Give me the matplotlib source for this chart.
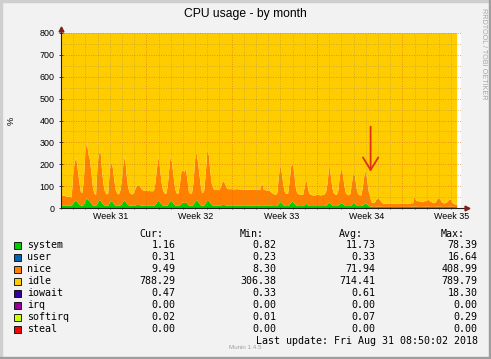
import numpy as np
import matplotlib.pyplot as plt
from matplotlib.patches import Rectangle

W, H = 491, 359

# munin cpu graph, one sample every 3 hours (8 per day)
sample_hours = 3
system = [
    10, 10, 10, 10, 10, 10, 10, 12,
    20, 30, 34, 25, 16, 12, 10, 14,
    30, 44, 36, 30, 18, 12, 10, 10,
    22, 32, 34, 22, 14, 11, 10, 10,
    24, 30, 26, 16, 11, 10, 10, 12,
    18, 30, 34, 22, 14, 11, 10, 10,
    10, 12, 14, 14, 12, 11, 10, 10,
    10, 10, 10, 10, 10, 10, 14, 24,
    34, 26, 16, 11, 10, 10, 12, 22,
    34, 28, 18, 12, 10, 10, 12, 18,
    26, 22, 28, 18, 11, 10, 10, 14,
    30, 36, 28, 18, 11, 10, 11, 20,
    36, 32, 22, 14, 11, 10, 10, 10,
    10, 11, 14, 15, 12, 10, 10, 10,
    10, 10, 10, 10, 10, 10, 10, 10,
    10, 10, 10, 10, 10, 10, 10, 10,
    10, 10, 10, 10, 14, 10, 10, 10,
    10, 10, 10, 9, 9, 9, 10, 18,
    28, 20, 13, 10, 9, 9, 14, 24,
    29, 22, 13, 10, 9, 9, 9, 9,
    14, 20, 13, 10, 9, 9, 9, 9,
    9, 9, 9, 9, 9, 9, 10, 16,
    26, 20, 12, 9, 9, 9, 11, 17,
    21, 18, 12, 9, 9, 9, 9, 14,
    24, 19, 11, 9, 9, 9, 11, 16,
    21, 15, 9, 7, 6, 5, 5, 6,
    6, 6, 5, 5, 5, 5, 5, 5,
    5, 5, 4, 5, 5, 4, 5, 5,
    5, 5, 5, 5, 5, 5, 6, 5,
    7, 6, 5, 5, 5, 5, 5, 6,
    5, 6, 5, 5, 5, 5, 5, 6,
    6, 6, 5, 5, 5, 5, 5, 6,
    6, 5, 5, 5, 5,
]
nice = [
    45, 47, 46, 44, 42, 42, 40, 36,
    130, 180, 195, 150, 104, 62, 58, 110,
    225, 258, 210, 190, 140, 80, 55, 50,
    175, 215, 222, 145, 88, 60, 52, 55,
    148, 178, 158, 110, 70, 55, 52, 68,
    110, 175, 203, 135, 82, 60, 54, 52,
    60, 78, 88, 90, 86, 74, 70, 68,
    68, 67, 68, 67, 66, 68, 100, 158,
    198, 155, 100, 68, 57, 54, 84, 152,
    208, 170, 118, 72, 57, 54, 92, 145,
    148, 140, 152, 108, 62, 54, 58, 102,
    190, 218, 176, 128, 72, 57, 68, 136,
    228, 210, 145, 95, 76, 72, 72, 73,
    74, 84, 104, 105, 93, 78, 76, 76,
    76, 75, 75, 76, 76, 75, 75, 74,
    74, 74, 73, 74, 74, 73, 73, 73,
    73, 72, 72, 74, 104, 74, 72, 70,
    70, 68, 62, 57, 53, 51, 58, 128,
    166, 136, 88, 60, 56, 55, 102, 164,
    172, 142, 82, 58, 54, 52, 51, 53,
    84, 110, 80, 56, 51, 49, 49, 48,
    51, 51, 49, 49, 51, 53, 64, 100,
    170, 135, 82, 58, 53, 51, 68, 128,
    158, 136, 88, 58, 51, 49, 56, 102,
    138, 124, 78, 55, 49, 48, 78, 128,
    148, 110, 65, 40, 19, 17, 20, 32,
    36, 34, 25, 17, 15, 14, 15, 14,
    14, 13, 15, 14, 13, 14, 13, 14,
    13, 14, 13, 15, 14, 13, 17, 15,
    45, 29, 25, 27, 23, 25, 21, 29,
    25, 32, 27, 23, 19, 17, 20, 34,
    38, 32, 20, 17, 16, 19, 25, 34,
    30, 17, 13, 11, 10,
]
n_cpus = 8

week_labels = ['Week 31', 'Week 32', 'Week 33', 'Week 34', 'Week 35']
week_label_days = [4.08, 11.08, 18.08, 25.08, 32.08]

names = ['system', 'user', 'nice', 'idle', 'iowait', 'irq', 'softirq', 'steal']
colors = ['#00CC00', '#0066B3', '#FF8000', '#FFCC00',
          '#330099', '#990099', '#CCFF00', '#FF0000']
cur = [1.16, 0.31, 9.49, 788.29, 0.47, 0.00, 0.02, 0.00]
vmin = [0.82, 0.23, 8.30, 306.38, 0.33, 0.00, 0.01, 0.00]
vavg = [11.73, 0.33, 71.94, 714.41, 0.61, 0.00, 0.07, 0.00]
vmax = [78.39, 16.64, 408.99, 789.79, 18.30, 0.00, 0.29, 0.00]

system = np.array(system, dtype=float)
nice = np.array(nice, dtype=float)
t = np.arange(len(system)) * sample_hours / 24.0
idle = 100 * n_cpus - system - nice


def fx(x):
    return x / W


def fy(y):
    return 1 - y / H


fig = plt.figure(figsize=(W / 100, H / 100), dpi=100, facecolor='#f2f2f2')
# 3d-ish frame like rrdtool
fig.patches.append(Rectangle((0, 1 - 2 / H), 1, 2 / H, transform=fig.transFigure, color='#cfcfcf'))
fig.patches.append(Rectangle((0, 0), 2 / W, 1, transform=fig.transFigure, color='#cfcfcf'))
fig.patches.append(Rectangle((0, 0), 1, 2 / H, transform=fig.transFigure, color='#9e9e9e'))
fig.patches.append(Rectangle((1 - 2 / W, 0), 2 / W, 1, transform=fig.transFigure, color='#9e9e9e'))

ax = fig.add_axes([fx(61), fy(208), 400 / W, 175 / H])
ax.set_facecolor('white')
ax.stackplot(t, system, nice, idle, colors=[colors[0], colors[2], colors[3]],
             linewidth=0, zorder=1)
ax.set_xlim(0, 400 / 12.19)
ax.set_ylim(0, 800)

# grid on top of the areas, dotted
minor_c = '#b39a40'
major_c = '#d9661f'
dots = (0, (1, 1.5))
for v in range(50, 800, 100):
    ax.axhline(v, color=minor_c, lw=0.7, ls=dots, zorder=3, alpha=0.6)
for v in range(100, 801, 100):
    ax.axhline(v, color=major_c, lw=0.7, ls=dots, zorder=3, alpha=0.6, clip_on=False)
for d in range(1, 33):
    c = major_c if d % 7 == 0 else minor_c
    ax.axvline(d, color=c, lw=0.7, ls=dots, zorder=3, alpha=0.6)

for s in ax.spines.values():
    s.set_visible(False)
axis_c = '#1f1f1f'
arrow_c = '#801f1f'
ax.plot([0, 0], [0, 1.02], color=axis_c, lw=0.8, transform=ax.transAxes, clip_on=False, zorder=4)
ax.plot([0, 1.012], [0, 0], color=axis_c, lw=0.8, transform=ax.transAxes, clip_on=False, zorder=4)
ax.plot([0], [1.025], marker='^', ms=3.5, color=arrow_c, transform=ax.transAxes, clip_on=False, zorder=5)
ax.plot([1.014], [0], marker='>', ms=3.5, color=arrow_c, transform=ax.transAxes, clip_on=False, zorder=5)

ax.set_yticks(range(0, 801, 100))
ax.set_yticklabels([str(v) for v in range(0, 801, 100)])
ax.set_xticks(week_label_days)
ax.set_xticklabels(week_labels)
ax.set_xticks(range(0, 33), minor=True)
ax.tick_params(axis='both', which='major', labelsize=6.4, colors='black')
ax.tick_params(axis='y', which='major', length=3, width=0.6, color=axis_c, pad=3, direction='inout')
ax.tick_params(axis='x', which='major', length=0, pad=3)
ax.tick_params(axis='x', which='minor', length=2, width=0.5, color=axis_c, direction='inout')
for lab in ax.get_xticklabels() + ax.get_yticklabels():
    lab.set_fontfamily('Liberation Sans')

ax.annotate('', xy=(25.4, 166), xytext=(25.4, 372),
            arrowprops=dict(arrowstyle='->,head_length=0.9,head_width=0.55',
                            color='#e0301c', lw=1.3, mutation_scale=10,
                            shrinkA=0, shrinkB=0),
            zorder=6)

fig.text(fx(245), fy(14), 'CPU usage - by month', ha='center', va='center',
         fontsize=8.7, family='Liberation Sans')
fig.text(fx(11), fy(121), '%', ha='center', va='center', rotation=90,
         fontsize=6.6, family='Liberation Sans')
fig.text(fx(483), fy(54), 'RRDTOOL / TOBI OETIKER', ha='center', va='center',
         rotation=270, fontsize=5.2, color='#a8a8a8', family='Liberation Sans')

mono = dict(family='DejaVu Sans Mono', fontsize=7.2, va='center')
for x, head in zip([139.5, 239.5, 338.5, 441], ['Cur:', 'Min:', 'Avg:', 'Max:']):
    fig.text(fx(x), fy(234), head, ha='left', **mono)
for i, name in enumerate(names):
    yc = 245.5 + 12 * i
    fig.patches.append(Rectangle((fx(13.5), fy(yc + 3.5)), 7 / W, 7 / H,
                                 transform=fig.transFigure, facecolor=colors[i],
                                 edgecolor='black', lw=0.6))
    fig.text(fx(27), fy(yc), name, ha='left', **mono)
    for x, vals in zip([175.5, 276.5, 375.5, 477.5], [cur, vmin, vavg, vmax]):
        fig.text(fx(x), fy(yc), '%.2f' % vals[i], ha='right', **mono)
fig.text(fx(477.5), fy(341), 'Last update: Fri Aug 31 08:50:02 2018', ha='right', **mono)
fig.text(fx(245), fy(347.5), 'Munin 1.4.5', ha='center', va='center',
         fontsize=4.5, color='#a0a0a0', family='Liberation Sans')

fig.savefig('out.png', dpi=100, facecolor=fig.get_facecolor())
